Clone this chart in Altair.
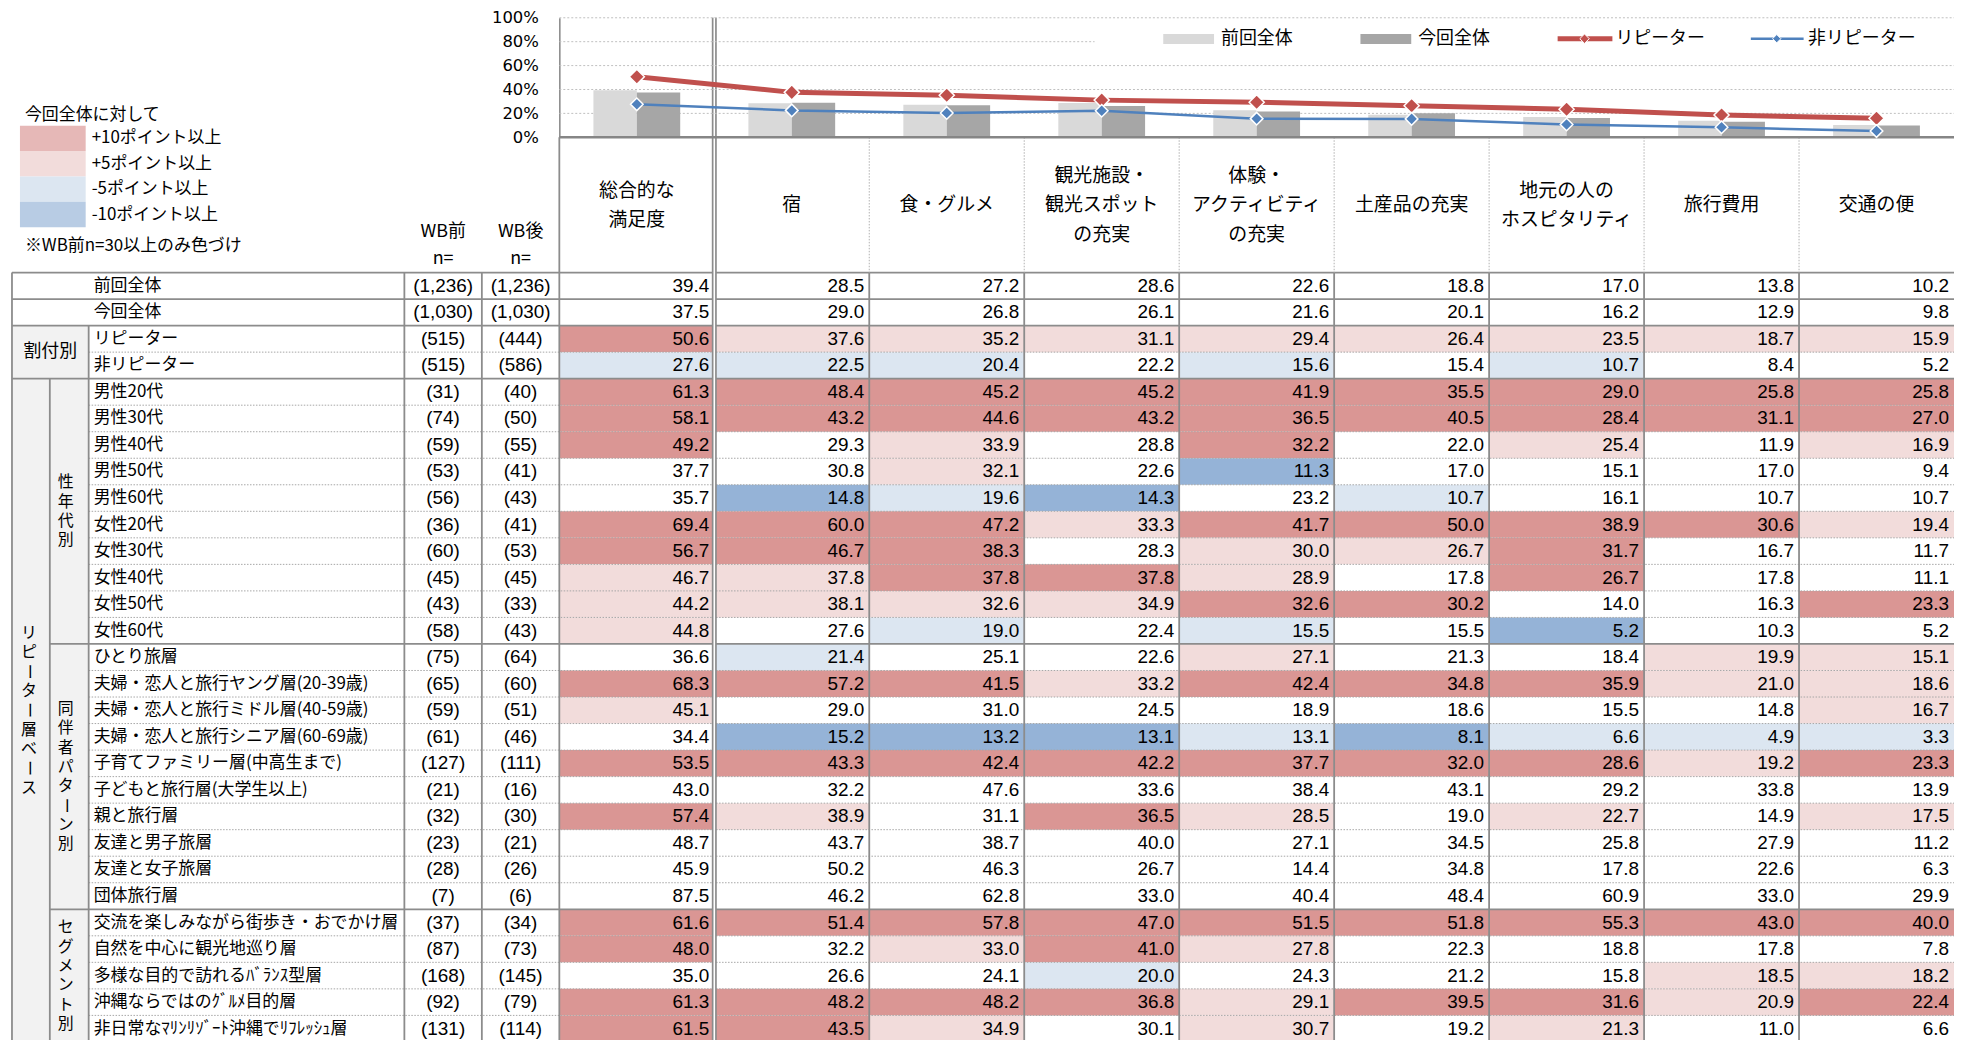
import altair as alt
import pandas as pd

# ---------------- data ----------------
row_labels = ["前回全体", "今回全体", "リピーター", "非リピーター",
              "男性20代", "男性30代", "男性40代", "男性50代", "男性60代",
              "女性20代", "女性30代", "女性40代", "女性50代", "女性60代",
              "ひとり旅層", "夫婦・恋人と旅行ヤング層(20-39歳)", "夫婦・恋人と旅行ミドル層(40-59歳)",
              "夫婦・恋人と旅行シニア層(60-69歳)", "子育てファミリー層(中高生まで)", "子どもと旅行層(大学生以上)",
              "親と旅行層", "友達と男子旅層", "友達と女子旅層", "団体旅行層",
              "交流を楽しみながら街歩き・おでかけ層", "自然を中心に観光地巡り層", "多様な目的で訪れるﾊﾞﾗﾝｽ型層",
              "沖縄ならではのｸﾞﾙﾒ目的層", "非日常なﾏﾘﾝﾘｿﾞｰﾄ沖縄でﾘﾌﾚｯｼｭ層"]
n_before = [1236, 1030, 515, 515, 31, 74, 59, 53, 56, 36, 60, 45, 43, 58, 75, 65, 59, 61, 127, 21, 32, 23, 28, 7,
            37, 87, 168, 92, 131]
n_after = [1236, 1030, 444, 586, 40, 50, 55, 41, 43, 41, 53, 45, 33, 43, 64, 60, 51, 46, 111, 16, 30, 21, 26, 6,
           34, 73, 145, 79, 114]
col_labels = ["総合的な\n満足度", "宿", "食・グルメ", "観光施設・\n観光スポット\nの充実", "体験・\nアクティビティ\nの充実",
              "土産品の充実", "地元の人の\nホスピタリティ", "旅行費用", "交通の便"]

v_sogo = [39.4, 37.5, 50.6, 27.6, 61.3, 58.1, 49.2, 37.7, 35.7, 69.4, 56.7, 46.7, 44.2, 44.8, 36.6, 68.3, 45.1, 34.4, 53.5, 43.0, 57.4, 48.7, 45.9, 87.5, 61.6, 48.0, 35.0, 61.3, 61.5]
v_yado = [28.5, 29.0, 37.6, 22.5, 48.4, 43.2, 29.3, 30.8, 14.8, 60.0, 46.7, 37.8, 38.1, 27.6, 21.4, 57.2, 29.0, 15.2, 43.3, 32.2, 38.9, 43.7, 50.2, 46.2, 51.4, 32.2, 26.6, 48.2, 43.5]
v_food = [27.2, 26.8, 35.2, 20.4, 45.2, 44.6, 33.9, 32.1, 19.6, 47.2, 38.3, 37.8, 32.6, 19.0, 25.1, 41.5, 31.0, 13.2, 42.4, 47.6, 31.1, 38.7, 46.3, 62.8, 57.8, 33.0, 24.1, 48.2, 34.9]
v_spot = [28.6, 26.1, 31.1, 22.2, 45.2, 43.2, 28.8, 22.6, 14.3, 33.3, 28.3, 37.8, 34.9, 22.4, 22.6, 33.2, 24.5, 13.1, 42.2, 33.6, 36.5, 40.0, 26.7, 33.0, 47.0, 41.0, 20.0, 36.8, 30.1]
v_exp = [22.6, 21.6, 29.4, 15.6, 41.9, 36.5, 32.2, 11.3, 23.2, 41.7, 30.0, 28.9, 32.6, 15.5, 27.1, 42.4, 18.9, 13.1, 37.7, 38.4, 28.5, 27.1, 14.4, 40.4, 51.5, 27.8, 24.3, 29.1, 30.7]
v_souv = [18.8, 20.1, 26.4, 15.4, 35.5, 40.5, 22.0, 17.0, 10.7, 50.0, 26.7, 17.8, 30.2, 15.5, 21.3, 34.8, 18.6, 8.1, 32.0, 43.1, 19.0, 34.5, 34.8, 48.4, 51.8, 22.3, 21.2, 39.5, 19.2]
v_hosp = [17.0, 16.2, 23.5, 10.7, 29.0, 28.4, 25.4, 15.1, 16.1, 38.9, 31.7, 26.7, 14.0, 5.2, 18.4, 35.9, 15.5, 6.6, 28.6, 29.2, 22.7, 25.8, 17.8, 60.9, 55.3, 18.8, 15.8, 31.6, 21.3]
v_cost = [13.8, 12.9, 18.7, 8.4, 25.8, 31.1, 11.9, 17.0, 10.7, 30.6, 16.7, 17.8, 16.3, 10.3, 19.9, 21.0, 14.8, 4.9, 19.2, 33.8, 14.9, 27.9, 22.6, 33.0, 43.0, 17.8, 18.5, 20.9, 11.0]
v_trans = [10.2, 9.8, 15.9, 5.2, 25.8, 27.0, 16.9, 9.4, 10.7, 19.4, 11.7, 11.1, 23.3, 5.2, 15.1, 18.6, 16.7, 3.3, 23.3, 13.9, 17.5, 11.2, 6.3, 29.9, 40.0, 7.8, 18.2, 22.4, 6.6]

top_series = ["前回全体", "今回全体", "リピーター", "非リピーター"]
legend_title = "今回全体に対して"
legend_labels = ["+10ポイント以上", "+5ポイント以上", "-5ポイント以上", "-10ポイント以上"]
legend_note = "※WB前n=30以上のみ色づけ"
group_names = ["割付別", "性年代別", "同伴者パターン別", "セグメント別"]
group_starts = [2, 4, 14, 24]
group_ends = [4, 14, 24, 29]
outer_group = "リピーター層ベース"
outer_start = 4
min_n = 30

# ---------------- layout & style ----------------
cols = [v_sogo, v_yado, v_food, v_spot, v_exp, v_souv, v_hosp, v_cost, v_trans]
NR, NC = len(row_labels), len(cols)
W, H = 1954, 1032
UNIT = 155.6           # px per value column
X0 = 553.6             # chart x where the first value column starts
ROW_H = 26.64
TOP = 263.5            # chart y of table body top
PB, PT = 127.7, 7.7    # chart y of 0% and 100%
HDR_LH = 29.5
V_STEP = 19.4          # px between stacked vertical characters


def ux(px):  # page x -> column units
    return (px - 8 - X0) / UNIT


def uy(py):  # page y -> row units
    return (py - 8 - TOP) / ROW_H


def up(py):  # page y -> percent units
    return (PB - (py - 8)) / (PB - PT) * 100


XS = alt.Scale(domain=[-X0 / UNIT, NC], range=[0, W], nice=False, zero=False)
RS = alt.Scale(domain=[0, NR], range=[TOP, TOP + NR * ROW_H], nice=False, zero=False)
PS = alt.Scale(domain=[0, 100], range=[PB, PT], nice=False, zero=False)

LINE = "#8C8C8C"
DOT = "#A6A6A6"
JP = "Noto Sans CJK JP"
NUM = "Liberation Sans"
cats = ["+10", "+5", "-5", "-10"]
cell_colors = ["#DA9694", "#F2DCDB", "#DCE6F1", "#95B3D7"]
legend_colors = ["#E6B8B7", "#F2DCDB", "#DCE6F1", "#B8CCE4"]
bar_colors = ["#D9D9D9", "#A6A6A6"]
RED, BLUE = "#C0504D", "#4F81BD"

XL, XG, XLAB = ux(12), ux(50), ux(89)


def ex(f):
    return alt.X(f + ":Q", scale=XS, axis=None)


def ey(f, s):
    return alt.Y(f + ":Q", scale=s, axis=None)


layers = []

# ---- grey group cells ----
grey = [dict(x0=XL, x1=XLAB, y0=group_starts[0], y1=group_ends[0]),
        dict(x0=XL, x1=XG, y0=outer_start, y1=NR)]
for s, e in zip(group_starts[1:], group_ends[1:]):
    grey.append(dict(x0=XG, x1=XLAB, y0=s, y1=e))
layers.append(alt.Chart(pd.DataFrame(grey)).mark_rect(fill="#F2F2F2").encode(
    x=ex("x0"), x2=alt.X2("x1"), y=ey("y0", RS), y2=alt.Y2("y1")))

# ---- coloured cells ----
cells = []
for c, vals in enumerate(cols):
    for r, v in enumerate(vals):
        d = round(v - vals[1], 1)
        cat = None
        if r >= 2 and n_before[r] >= min_n:
            if d >= 10:
                cat = "+10"
            elif d >= 5:
                cat = "+5"
            elif d <= -10:
                cat = "-10"
            elif d <= -5:
                cat = "-5"
        cells.append(dict(c0=c, c1=c + 1, r0=r, r1=r + 1, ym=r + 0.5, xr=c + 1, t=f"{v:.1f}", cat=cat))
cells_df = pd.DataFrame(cells)
fill_df = cells_df[cells_df["cat"].notna()]
layers.append(alt.Chart(fill_df).mark_rect().encode(
    x=ex("c0"), x2=alt.X2("c1"), y=ey("r0", RS), y2=alt.Y2("r1"),
    color=alt.Color("cat:N", scale=alt.Scale(domain=cats, range=cell_colors), legend=None)))

# ---- table lines ----
solid_h, dot_h = [], []
group_bounds = set(group_starts[1:]) | set(group_ends)
for b in range(NR):
    if b in (0, 1, 2, outer_start):
        solid_h.append(dict(y=b, x0=XL, x1=NC))
    elif b in group_bounds:
        solid_h.append(dict(y=b, x0=XG, x1=NC))
    else:
        dot_h.append(dict(y=b, x0=XLAB, x1=NC))
layers.append(alt.Chart(pd.DataFrame(solid_h)).mark_rule(color=LINE, strokeWidth=1.8).encode(
    x=ex("x0"), x2=alt.X2("x1"), y=ey("y", RS)))
layers.append(alt.Chart(pd.DataFrame(dot_h)).mark_rule(color=DOT, strokeWidth=1, strokeDash=[1.5, 1.5]).encode(
    x=ex("x0"), x2=alt.X2("x1"), y=ey("y", RS)))

hdr_top = uy(135.7)
solid_v = [dict(x=XL, y0=0, y1=NR), dict(x=XG, y0=outer_start, y1=NR), dict(x=XLAB, y0=2, y1=NR),
           dict(x=-1.0, y0=0, y1=NR), dict(x=-0.5, y0=0, y1=NR), dict(x=0, y0=hdr_top, y1=NR)]
for c in range(2, NC):
    solid_v.append(dict(x=c, y0=0, y1=NR))
layers.append(alt.Chart(pd.DataFrame(solid_v)).mark_rule(color=LINE, strokeWidth=1.8).encode(
    x=ex("x"), y=ey("y0", RS), y2=alt.Y2("y1")))
dot_v = [dict(x=c, y0=hdr_top, y1=0) for c in range(2, NC)]
layers.append(alt.Chart(pd.DataFrame(dot_v)).mark_rule(color="#B0B0B0", strokeWidth=1, strokeDash=[1.5, 1.5]).encode(
    x=ex("x"), y=ey("y0", RS), y2=alt.Y2("y1")))
dbl = pd.DataFrame([dict(x=1, y0=uy(15.7), y1=NR)])
layers.append(alt.Chart(dbl).mark_rule(color=LINE, strokeWidth=5).encode(
    x=ex("x"), y=ey("y0", RS), y2=alt.Y2("y1")))
layers.append(alt.Chart(dbl).mark_rule(color="white", strokeWidth=1.6).encode(
    x=ex("x"), y=ey("y0", RS), y2=alt.Y2("y1")))

# ---- top chart ----
grid = pd.DataFrame([dict(y=v, x0=0, x1=NC) for v in [20, 40, 60, 80, 100]])
layers.append(alt.Chart(grid).mark_rule(color="#BFBFBF", strokeWidth=1, strokeDash=[2, 2]).encode(
    x=ex("x0"), x2=alt.X2("x1"), y=ey("y", PS)))
lbox = pd.DataFrame([dict(x0=ux(1099), x1=NC, y0=up(24), y1=up(56))])
layers.append(alt.Chart(lbox).mark_rect(fill="white").encode(
    x=ex("x0"), x2=alt.X2("x1"), y=ey("y0", PS), y2=alt.Y2("y1")))

bars = []
for c in range(NC):
    bars.append(dict(x0=c + 0.22, x1=c + 0.5, y=cols[c][0], base=0, s=top_series[0]))
    bars.append(dict(x0=c + 0.5, x1=c + 0.78, y=cols[c][1], base=0, s=top_series[1]))
layers.append(alt.Chart(pd.DataFrame(bars)).mark_rect().encode(
    x=ex("x0"), x2=alt.X2("x1"),
    y=alt.Y("y:Q", scale=PS, axis=alt.Axis(values=[0, 20, 40, 60, 80, 100], labelExpr="datum.value + '%'",
                                           ticks=False, grid=False, domainColor="#868686", domainWidth=1.5,
                                           labelFont="DejaVu Sans", labelFontSize=16.5, labelColor="#000000",
                                           labelPadding=21, offset=-X0, title=None, labelOverlap=False)),
    y2=alt.Y2("base"),
    color=alt.Color("s:N", scale=alt.Scale(domain=top_series[:2], range=bar_colors), legend=None)))
zero = pd.DataFrame([dict(y=0, x0=0, x1=NC)])
layers.append(alt.Chart(zero).mark_rule(color="#868686", strokeWidth=2.5).encode(
    x=ex("x0"), x2=alt.X2("x1"), y=ey("y", PS)))

rep = pd.DataFrame([dict(x=c + 0.5, y=cols[c][2]) for c in range(NC)])
non = pd.DataFrame([dict(x=c + 0.5, y=cols[c][3]) for c in range(NC)])
layers.append(alt.Chart(non).mark_line(color=BLUE, strokeWidth=2.5).encode(x=ex("x"), y=ey("y", PS)))
layers.append(alt.Chart(rep).mark_line(color=RED, strokeWidth=5).encode(x=ex("x"), y=ey("y", PS)))
layers.append(alt.Chart(rep).mark_point(shape="diamond", filled=True, fill=RED, stroke="white", strokeWidth=1.5,
                                        size=230, opacity=1).encode(x=ex("x"), y=ey("y", PS)))
layers.append(alt.Chart(non).mark_point(shape="diamond", filled=True, fill=BLUE, stroke="white", strokeWidth=1.5,
                                        size=160, opacity=1).encode(x=ex("x"), y=ey("y", PS)))

# ---- top-right legend ----
ly = up(36.7)
leg_r = pd.DataFrame([dict(x0=ux(1168), x1=ux(1219), y0=up(32), y1=up(42), s=top_series[0]),
                      dict(x0=ux(1366), x1=ux(1417), y0=up(32), y1=up(42), s=top_series[1])])
layers.append(alt.Chart(leg_r).mark_rect().encode(
    x=ex("x0"), x2=alt.X2("x1"), y=ey("y0", PS), y2=alt.Y2("y1"),
    color=alt.Color("s:N", scale=alt.Scale(domain=top_series[:2], range=bar_colors), legend=None)))
layers.append(alt.Chart(pd.DataFrame([dict(x0=ux(1564), x1=ux(1619), y=ly)])).mark_rule(
    color=RED, strokeWidth=5).encode(x=ex("x0"), x2=alt.X2("x1"), y=ey("y", PS)))
layers.append(alt.Chart(pd.DataFrame([dict(x0=ux(1758), x1=ux(1811), y=ly)])).mark_rule(
    color=BLUE, strokeWidth=2.5).encode(x=ex("x0"), x2=alt.X2("x1"), y=ey("y", PS)))
layers.append(alt.Chart(pd.DataFrame([dict(x=ux(1591), y=ly)])).mark_point(
    shape="diamond", filled=True, fill=RED, stroke="white", strokeWidth=1, size=90, opacity=1).encode(
    x=ex("x"), y=ey("y", PS)))
layers.append(alt.Chart(pd.DataFrame([dict(x=ux(1784), y=ly)])).mark_point(
    shape="diamond", filled=True, fill=BLUE, stroke="white", strokeWidth=1, size=70, opacity=1).encode(
    x=ex("x"), y=ey("y", PS)))
leg_t = pd.DataFrame([dict(x=ux(1226), y=ly, t=top_series[0]), dict(x=ux(1424), y=ly, t=top_series[1]),
                      dict(x=ux(1622), y=ly, t=top_series[2]), dict(x=ux(1815.5), y=ly, t=top_series[3])])
layers.append(alt.Chart(leg_t).mark_text(align="left", baseline="middle", font=JP, fontSize=18, color="black").encode(
    x=ex("x"), y=ey("y", PS), text="t:N"))

# ---- left colour legend ----
sw = []
for i, lab in enumerate(legend_labels):
    y0 = 124 + i * 25.5
    sw.append(dict(x0=ux(20), x1=ux(86), y0=uy(y0), y1=uy(y0 + 25.5), ym=uy(y0 + 12.75), xt=ux(92), t=lab))
sw_df = pd.DataFrame(sw)
layers.append(alt.Chart(sw_df).mark_rect().encode(
    x=ex("x0"), x2=alt.X2("x1"), y=ey("y0", RS), y2=alt.Y2("y1"),
    color=alt.Color("t:N", scale=alt.Scale(domain=legend_labels, range=legend_colors), legend=None)))
layers.append(alt.Chart(sw_df).mark_text(align="left", baseline="middle", font=JP, fontSize=17, color="black").encode(
    x=ex("xt"), y=ey("ym", RS), text="t:N"))
lt = pd.DataFrame([dict(x=ux(25), y=uy(113), t=legend_title), dict(x=ux(25), y=uy(245), t=legend_note)])
layers.append(alt.Chart(lt).mark_text(align="left", baseline="middle", font=JP, fontSize=17, color="black").encode(
    x=ex("x"), y=ey("y", RS), text="t:N"))

# ---- header texts (multi-line blocks centred on the header) ----
hdr = []
for c in range(NC):
    nlines = col_labels[c].count("\n") + 1
    hdr.append(dict(x=c + 0.5, y=uy(204 - (nlines - 1) / 2 * HDR_LH), t=col_labels[c]))
layers.append(alt.Chart(pd.DataFrame(hdr)).mark_text(align="center", baseline="middle", font=JP, fontSize=19,
                                                     color="black", lineBreak="\n", lineHeight=HDR_LH).encode(
    x=ex("x"), y=ey("y", RS), text="t:N"))
wb = pd.DataFrame([dict(x=-0.75, y=uy(231), t="WB前"), dict(x=-0.25, y=uy(231), t="WB後"),
                   dict(x=-0.75, y=uy(258), t="n="), dict(x=-0.25, y=uy(258), t="n=")])
layers.append(alt.Chart(wb).mark_text(align="center", baseline="middle", font=JP, fontSize=18, color="black").encode(
    x=ex("x"), y=ey("y", RS), text="t:N"))

# ---- row labels / n / values ----
rl = pd.DataFrame([dict(x=ux(94), y=r + 0.5, t=row_labels[r]) for r in range(NR)])
layers.append(alt.Chart(rl).mark_text(align="left", baseline="middle", font=JP, fontSize=17, color="black").encode(
    x=ex("x"), y=ey("y", RS), text="t:N"))
nn = pd.DataFrame([dict(x=-0.75, y=r + 0.5, t=f"({n_before[r]:,})") for r in range(NR)] +
                  [dict(x=-0.25, y=r + 0.5, t=f"({n_after[r]:,})") for r in range(NR)])
layers.append(alt.Chart(nn).mark_text(align="center", baseline="middle", font=NUM, fontSize=19, color="black").encode(
    x=ex("x"), y=ey("y", RS), text="t:N"))
layers.append(alt.Chart(cells_df).mark_text(align="right", baseline="middle", dx=-5, font=NUM, fontSize=19,
                                            color="black").encode(
    x=ex("xr"), y=ey("ym", RS), text="t:N"))

# ---- group labels ----
gh = pd.DataFrame([dict(x=ux(50.5), y=(group_starts[0] + group_ends[0]) / 2, t=group_names[0])])
layers.append(alt.Chart(gh).mark_text(align="center", baseline="middle", font=JP, fontSize=18, color="black").encode(
    x=ex("x"), y=ey("y", RS), text="t:N"))
vspec = [(outer_group, ux(29), outer_start, NR)] + [
    (g, ux(66), s, e) for g, s, e in zip(group_names[1:], group_starts[1:], group_ends[1:])]
vchars = []
for name, xx, s, e in vspec:
    ctr = (s + e) / 2
    n = len(name)
    for k, ch in enumerate(name):
        vchars.append(dict(x=xx, y=ctr + (k - (n - 1) / 2) * V_STEP / ROW_H, t=ch, rot=(ch == "ー")))
vc = pd.DataFrame(vchars)
layers.append(alt.Chart(vc[~vc["rot"]]).mark_text(align="center", baseline="middle", font=JP, fontSize=16,
                                                 color="black").encode(x=ex("x"), y=ey("y", RS), text="t:N"))
layers.append(alt.Chart(vc[vc["rot"]]).mark_text(align="center", baseline="middle", font=JP, fontSize=16,
                                                angle=90, color="black").encode(x=ex("x"), y=ey("y", RS), text="t:N"))

chart = alt.layer(*layers).resolve_scale(y="independent", color="independent").properties(
    width=W, height=H, padding=0, autosize=alt.AutoSizeParams(type="none")
).configure_view(stroke=None)

chart.save("out.html", embed_options={"renderer": "svg", "actions": False})
